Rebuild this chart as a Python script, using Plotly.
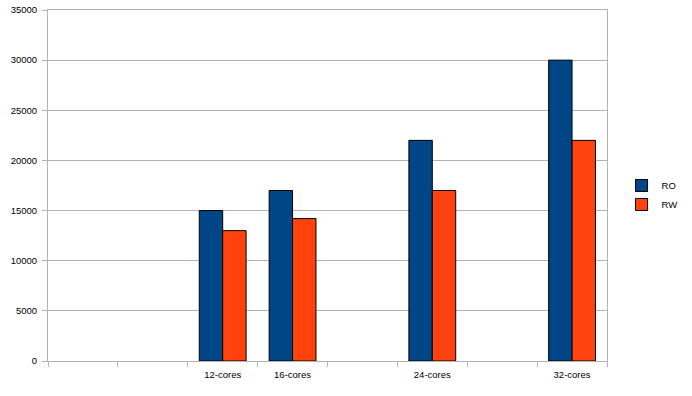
import plotly.graph_objects as go

categories = ["", "", "12-cores", "16-cores", "", "24-cores", "", "32-cores"]
ro_values = [None, None, 15000, 17000, None, 22000, None, 30000]
rw_values = [None, None, 13000, 14200, None, 17000, None, 22000]
y_ticks = [0, 5000, 10000, 15000, 20000, 25000, 30000, 35000]

FONT = "Liberation Sans, Arial, sans-serif"
positions = list(range(len(categories)))
label_pos = [i for i, c in enumerate(categories) if c]
label_txt = [c for c in categories if c]
boundaries = [i - 0.5 for i in range(len(categories) + 1)]

fig = go.Figure()
fig.add_trace(go.Bar(name="RO", x=positions, y=ro_values,
                     marker=dict(color="#004586", line=dict(color="#000000", width=1))))
fig.add_trace(go.Bar(name="RW", x=positions, y=rw_values,
                     marker=dict(color="#ff420e", line=dict(color="#000000", width=1))))

fig.update_layout(
    width=692, height=396,
    margin=dict(l=48, r=85, t=10, b=35, pad=0, autoexpand=False),
    paper_bgcolor="white", plot_bgcolor="white",
    barmode="group", bargap=0.33, bargroupgap=0,
    font=dict(family=FONT, size=9.5, color="#000000"),
    legend=dict(x=1.026, y=0.473, xanchor="left", yanchor="middle",
                font=dict(size=9.5), tracegroupgap=0, itemwidth=30),
    xaxis=dict(range=[-0.5, len(categories) - 0.5], tickmode="array",
               tickvals=label_pos, ticktext=label_txt, ticks="",
               minor=dict(tickmode="array", tickvals=boundaries, ticks="outside",
                          ticklen=5, tickcolor="#b3b3b3", showgrid=False),
               showline=True, linecolor="#b3b3b3", linewidth=1, mirror=True,
               showgrid=False, zeroline=False, automargin=False, fixedrange=True,
               ticklabelstandoff=5),
    yaxis=dict(range=[0, 35000], tickmode="array", tickvals=y_ticks,
               ticks="outside", ticklen=5,
               tickcolor="#b3b3b3", showline=True, linecolor="#b3b3b3", linewidth=1,
               mirror=True, gridcolor="#b3b3b3", gridwidth=1, zeroline=False,
               tickformat="d", automargin=False, fixedrange=True,
               ticklabelstandoff=3, ticklabeloverflow="allow"),
)

# remove the browser's default 8px body margin so the figure fills the window
fig.write_html("out.html", config={"displayModeBar": False},
               post_script="document.body.style.margin='0px';")
